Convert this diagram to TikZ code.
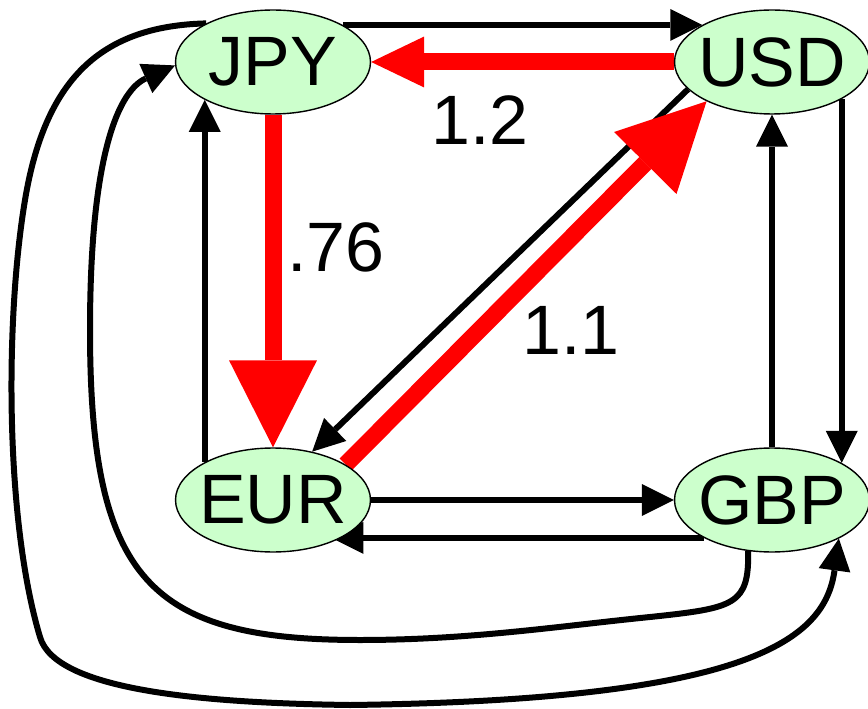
\documentclass[tikz,border=0pt]{standalone}
\usepackage{fontspec}
\setmainfont{Liberation Sans}
\usepackage{tikz}
\usetikzlibrary{arrows.meta,shapes.geometric,backgrounds}
\definecolor{curgreen}{HTML}{CCFFCC}
\definecolor{hotred}{HTML}{FF0000}
\newcommand{\ratefont}{\fontsize{39.8}{46}\selectfont}

\begin{document}
\begin{tikzpicture}[x=0.02cm, y=-0.02cm,
  cur/.style={draw, ellipse, fill=curgreen, line width=0.8pt, minimum width=3.9cm, minimum height=2.08cm, inner xsep=-0.2cm, inner ysep=0pt, font=\ratefont},
  lnk/.style={line width=0.12cm, -{Triangle[length=0.64cm, width=0.64cm, line width=0pt 0 0]}},
  hot/.style={hotred, line width=0.34cm},
  hotbig/.style={hot, -{Triangle[length=1.74cm, width=1.76cm, line width=0pt 0 0]}},
  hotmid/.style={hot, -{Triangle[length=1.06cm, width=1.02cm, line width=0pt 0 0]}},
  rate/.style={font=\ratefont}]
\useasboundingbox (0,0) rectangle (868,709);
\node[cur] (JPY) at (273,62) {JPY}; \node[cur] (USD) at (772,62) {USD};
\node[cur] (EUR) at (273,500) {EUR}; \node[cur] (GBP) at (772,500) {GBP};
\node[rate] (r12) at (480,120) {1.2};
\node[rate] (r76) at (336,247) {.76};
\node[rate] (r11) at (571,330) {1.1};
\begin{scope}[on background layer]
\foreach \a/\b in {JPY.28/USD.152, EUR.151/JPY.209, USD.198/EUR.51, EUR/GBP, USD.332/GBP.28, GBP/USD} \draw[lnk] (\a) -- (\b);
\draw[lnk, shorten >=-0.2cm] (GBP.209) -- (EUR.331);
% the two long ways round
\draw[lnk] (GBP.245) .. controls (749,605) and (735,608) .. (650,617) .. controls (560,626) and (470,640) .. (360,640) .. controls (150,640) and (90,580) .. (90,330) .. controls (90,150) and (120,90) .. (JPY.182);
\draw[lnk] (JPY.150) .. controls (100,26) and (45,80) .. (25,200) .. controls (5,320) and (5,520) .. (40,637) .. controls (55,690) and (200,703) .. (350,705) .. controls (750,700) and (825,640) .. (GBP.330);
% best cycle
\draw[hotmid] (USD) -- (JPY);
\draw[hotbig] (JPY) -- (EUR);
\draw[hotbig] (EUR.26) -- (USD.211);
\end{scope}
\end{tikzpicture}
\end{document}
